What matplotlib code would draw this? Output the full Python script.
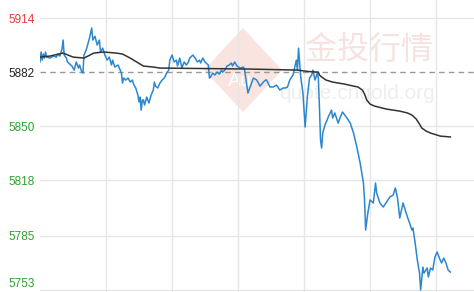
import matplotlib
matplotlib.use("Agg")
import matplotlib.pyplot as plt
from matplotlib.patches import Polygon

# minutes since session start / price
price_t = [0, 1, 2, 3, 4, 5, 6, 9, 12, 15, 16, 18, 20, 21, 22, 24, 25, 27, 29, 31,
           33, 35, 36, 38, 39, 40, 42, 44, 45, 47, 48, 50, 52, 54, 55, 57, 59, 61, 63, 65,
           66, 68, 71, 74, 75, 76, 78, 80, 82, 84, 85, 87, 89, 90, 91, 92, 93, 94, 95, 97,
           99, 101, 103, 104, 105, 107, 109, 111, 113, 114, 115, 117, 118, 120, 122, 124, 125, 127, 129, 131,
           133, 135, 136, 139, 141, 143, 145, 146, 148, 150, 152, 153, 154, 155, 157, 159, 161, 163, 165, 166,
           168, 170, 172, 174, 175, 177, 179, 182, 185, 186, 189, 191, 194, 197, 200, 203, 205, 206, 209, 212,
           215, 218, 221, 223, 225, 227, 230, 233, 234, 235, 237, 239, 241, 243, 245, 247, 248, 250, 252, 253,
           254, 255, 256, 257, 259, 261, 262, 265, 266, 268, 271, 273, 275, 279, 282, 285, 288, 291, 294, 295,
           296, 298, 300, 303, 305, 306, 309, 312, 315, 318, 321, 323, 325, 327, 329, 330, 334, 336, 338, 339,
           341, 343, 344, 345, 346, 348, 349, 352, 353, 355, 357, 359, 361, 363, 365, 367, 369, 371, 373]
price = [5888.0, 5893.9, 5889.1, 5892.7, 5890.3, 5893.9, 5890.9, 5890.3, 5891.5, 5890.9,
         5892.7, 5891.5, 5895.6, 5901.0, 5892.1, 5890.3, 5888.0, 5886.8, 5885.6, 5883.2,
         5888.0, 5884.4, 5886.2, 5882.0, 5881.4, 5892.1, 5895.1, 5899.8, 5902.2, 5908.1,
         5901.0, 5903.2, 5898.0, 5901.0, 5893.9, 5896.2, 5892.1, 5889.1, 5890.9, 5886.2,
         5889.1, 5885.0, 5886.2, 5881.4, 5875.5, 5878.5, 5877.3, 5878.5, 5876.1, 5877.3,
         5874.9, 5872.6, 5868.4, 5864.3, 5867.2, 5859.5, 5865.5, 5865.5, 5862.5, 5867.2,
         5863.7, 5868.4, 5871.4, 5876.1, 5873.7, 5872.6, 5875.5, 5877.3, 5878.5, 5879.7,
         5881.4, 5883.2, 5889.1, 5892.1, 5888.0, 5889.1, 5885.6, 5890.3, 5884.4, 5888.0,
         5886.2, 5888.0, 5890.3, 5892.1, 5890.3, 5888.0, 5889.1, 5887.4, 5890.3, 5888.0,
         5886.8, 5886.2, 5878.5, 5879.1, 5881.4, 5880.3, 5882.0, 5880.8, 5883.2, 5882.0,
         5883.2, 5885.6, 5886.2, 5887.4, 5885.6, 5888.0, 5885.6, 5884.4, 5885.0, 5883.2,
         5869.6, 5873.2, 5878.5, 5877.3, 5873.7, 5876.1, 5877.3, 5877.3, 5873.2, 5873.2,
         5874.3, 5871.4, 5872.6, 5872.6, 5873.2, 5877.3, 5880.3, 5889.1, 5883.2, 5896.2,
         5879.1, 5869.6, 5849.5, 5867.2, 5878.5, 5880.3, 5883.2, 5877.3, 5881.4, 5878.5,
         5861.3, 5841.8, 5837.0, 5845.9, 5850.7, 5853.6, 5855.4, 5859.5, 5854.8, 5857.8,
         5851.8, 5855.4, 5858.4, 5854.8, 5851.8, 5845.9, 5837.6, 5828.2, 5816.3, 5806.3,
         5788.5, 5798.6, 5806.3, 5804.5, 5816.3, 5810.4, 5804.5, 5802.1, 5805.1, 5808.0,
         5809.2, 5813.4, 5807.4, 5795.6, 5801.5, 5804.5, 5796.2, 5792.6, 5788.5, 5789.7,
         5780.8, 5770.7, 5766.6, 5763.0, 5753.0, 5766.6, 5763.0, 5766.0, 5760.7, 5766.0,
         5764.8, 5772.5, 5775.5, 5771.9, 5769.0, 5771.9, 5769.0, 5764.8, 5763.6]

avg_t = [0, 9, 21, 30, 40, 49, 58, 69, 75, 82, 94, 103, 109, 136, 152, 191, 234, 241, 245, 253,
         254, 256, 260, 266, 277, 285, 289, 293, 295, 297, 300, 304, 315, 327, 334, 338, 342, 345, 347, 351,
         355, 364, 373]
avg = [5890.9, 5891.5, 5893.3, 5890.9, 5890.3, 5893.3, 5893.9, 5893.3, 5892.7, 5890.3,
       5885.6, 5885.0, 5884.4, 5884.2, 5884.1, 5883.8, 5883.2, 5882.6, 5882.3, 5882.0,
       5880.3, 5879.1, 5877.3, 5876.1, 5874.9, 5873.7, 5873.2, 5871.4, 5869.0, 5865.5,
       5863.1, 5861.9, 5860.1, 5858.9, 5857.8, 5856.6, 5854.2, 5851.2, 5848.9, 5847.1,
       5845.9, 5844.1, 5843.6]

tick_vals = [5914, 5882, 5850, 5818, 5785, 5753]
tick_labels = ["5914", "5882", "5850", "5818", "5785", "5753"]
tick_colors = ["#e8393a", "#222222", "#2ea12e", "#2ea12e", "#2ea12e", "#2ea12e"]
prev_close = 5882
hour_marks = [60, 120, 180, 240, 300, 360]

fig = plt.figure(figsize=(4.74, 2.92), dpi=100)
ax = fig.add_axes([40 / 474, 0, 434 / 474, 1])

# watermark, behind the lines
ft = fig.transFigure
ax.add_patch(Polygon([[243 / 474, 1 - 28 / 292], [282 / 474, 1 - 70 / 292],
                      [243 / 474, 1 - 112 / 292], [204 / 474, 1 - 70 / 292]],
                     closed=True, transform=ft, facecolor="#f9e4e0",
                     edgecolor="none", zorder=0))
ax.text(240 / 474, 1 - 82 / 292, "Au", color="white", fontsize=14, transform=ft,
        ha="center", va="center", family="Liberation Sans", zorder=0.5)
ax.text(369 / 474, 1 - 50 / 292, "金投行情", color="#f6e2de", fontsize=23, transform=ft,
        ha="center", va="center", family=["Noto Sans CJK SC", "DejaVu Sans"], zorder=0.5)
ax.text(357 / 474, 1 - 93 / 292, "quote.cngold.org", color="#eeeeee", fontsize=15, transform=ft,
        ha="center", va="center", family="Liberation Sans", zorder=0.5)

for h in hour_marks:
    ax.axvline(h, color="#e6e6e6", lw=1, zorder=1)
for v in tick_vals:
    if v == prev_close:
        ax.axhline(v, color="#999999", lw=1, ls=(0, (4, 3)), zorder=2)
    else:
        ax.axhline(v, color="#e6e6e6", lw=1, zorder=1)

ax.plot(price_t, price, color="#2b87cf", lw=1.1, zorder=3)
ax.plot(avg_t, avg, color="#333333", lw=1.1, zorder=4)

ax.set_xlim(0, 394.5)
ax.set_ylim(5751.8, 5924.7)
ax.set_xticks([])
ax.set_yticks(tick_vals)
ax.set_yticklabels(tick_labels, fontsize=8.5, family="Liberation Sans")
ax.tick_params(axis="y", length=0, pad=4)
for lab, c in zip(ax.get_yticklabels(), tick_colors):
    lab.set_color(c)
ax.get_yticklabels()[-1].set_va("bottom")
for s in ax.spines.values():
    s.set_visible(False)

fig.savefig("out.png", dpi=100)
plt.close()
